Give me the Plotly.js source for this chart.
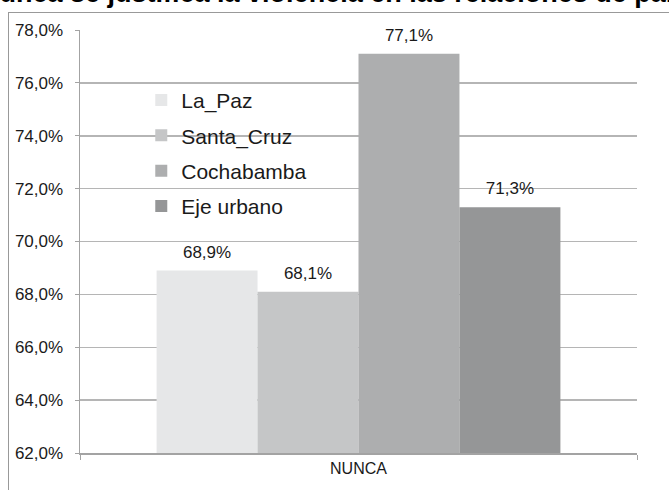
<!DOCTYPE html>
<html>
<head>
<meta charset="utf-8">
<script src="https://cdn.plot.ly/plotly-3.0.1.min.js"></script>
<style>
  body { margin: 0; background: #fff; }
  #wrap { position: relative; width: 669px; height: 490px; overflow: hidden; }
  #frame { position: absolute; left: 8px; top: 12px; width: 800px; height: 600px; border: 1px solid #999; }
  #chart { position: absolute; left: 0; top: 0; width: 669px; height: 490px; }
</style>
</head>
<body>
<div id="wrap">
  <div id="frame"></div>
  <div id="chart"></div>
</div>
<script>
const categories = ["NUNCA"];
const seriesNames = ["La_Paz", "Santa_Cruz", "Cochabamba", "Eje urbano"];
const laPaz = [0.689];
const santaCruz = [0.681];
const cochabamba = [0.771];
const ejeUrbano = [0.713];
const colors = ["#e6e7e8", "#c5c6c7", "#adaeaf", "#959697"];

const values = [laPaz, santaCruz, cochabamba, ejeUrbano];

const bars = values.map((y, i) => ({
  type: "bar",
  x: categories,
  y,
  name: seriesNames[i],
  legendgroup: "g" + i,
  offsetgroup: "o" + i,
  marker: { color: colors[i] },
  hoverinfo: "skip",
}));

// value labels, grouped like the bars
const labels = values.map((y, i) => ({
  type: "scatter",
  mode: "markers+text",
  x: categories,
  y,
  offsetgroup: "o" + i,
  showlegend: false,
  marker: { size: 12, opacity: 0 },
  texttemplate: "%{y:.1%}",
  textposition: "top center",
  textfont: { family: "Liberation Sans, Arial", size: 17, color: "#1a1a1a" },
  hoverinfo: "skip",
  cliponaxis: false,
}));

const axisColor = "#a3a3a3";

Plotly.newPlot("chart", [...bars, ...labels], {
  width: 669,
  height: 490,
  margin: { l: 80, r: 32, t: 30, b: 37 },
  paper_bgcolor: "rgba(0,0,0,0)",
  plot_bgcolor: "rgba(0,0,0,0)",
  separators: ",.",
  barmode: "group",
  bargap: 0.275,
  bargroupgap: 0,
  scattermode: "group",
  scattergap: 0.275,
  font: { family: "Liberation Sans, Arial", color: "#1a1a1a" },
  showlegend: true,
  legend: {
    x: 0.11,
    y: 0.882,
    xanchor: "left",
    yanchor: "top",
    bgcolor: "rgba(0,0,0,0)",
    font: { size: 21, color: "#1a1a1a" },
    traceorder: "grouped",
    tracegroupgap: 5,
  },
  xaxis: {
    type: "category",
    tickson: "boundaries",
    ticks: "outside",
    ticklen: 5,
    tickcolor: axisColor,
    showline: true,
    linecolor: axisColor,
    linewidth: 1.5,
    showgrid: false,
    tickfont: { size: 16 },
    fixedrange: true,
  },
  yaxis: {
    range: [0.62, 0.78],
    dtick: 0.02,
    tickformat: ".1%",
    ticks: "outside",
    ticklen: 4,
    tickcolor: axisColor,
    ticklabelstandoff: 8,
    showline: true,
    linecolor: axisColor,
    linewidth: 1.5,
    gridcolor: "#b5b5b5",
    gridwidth: 1.5,
    zeroline: false,
    tickfont: { size: 17 },
    fixedrange: true,
  },
  annotations: [{
    text: "<b>Nunca se justifica la violencia en las relaciones de pareja</b>",
    xref: "paper",
    yref: "paper",
    x: 0.48,
    y: 1.087,
    xanchor: "center",
    yanchor: "middle",
    showarrow: false,
    font: { family: "Liberation Sans, Arial", size: 27, color: "#000" },
  }],
}, { displayModeBar: false, staticPlot: true });
</script>
</body>
</html>
